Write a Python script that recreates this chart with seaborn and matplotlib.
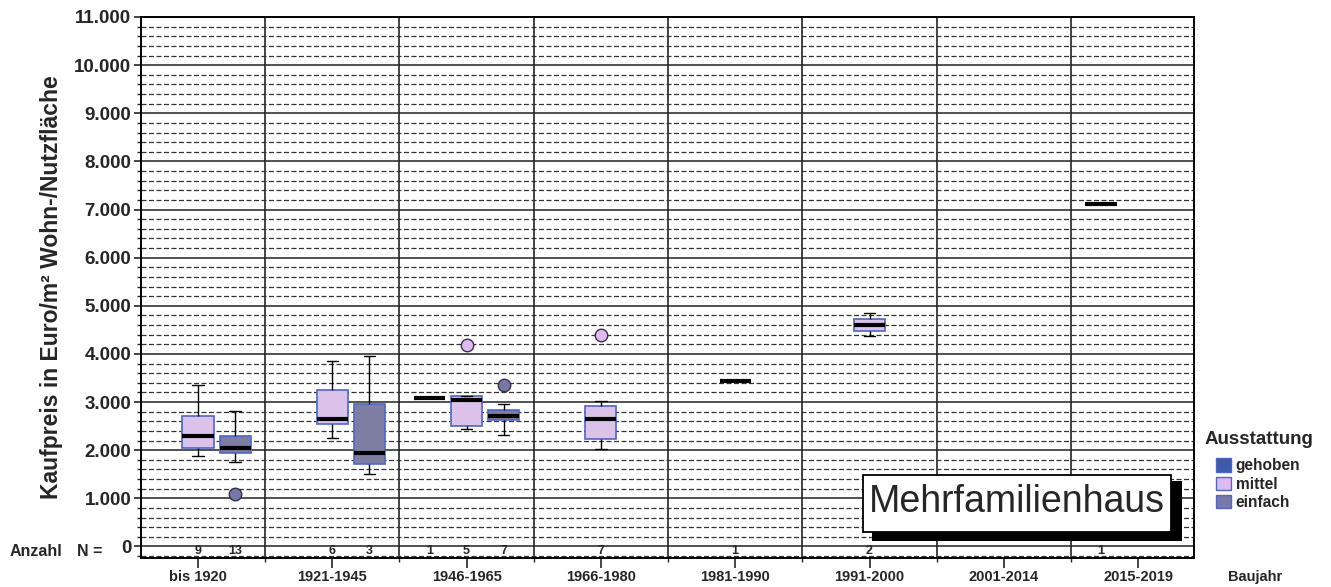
import numpy as np
import pandas as pd
import matplotlib
matplotlib.use("Agg")
import matplotlib.pyplot as plt
from matplotlib.patches import Patch, Rectangle
from matplotlib.ticker import MultipleLocator, FixedLocator, FuncFormatter
import seaborn as sns

# Construction periods (x categories) and equipment levels (hue)
baujahr = ["bis 1920", "1921-1945", "1946-1965", "1966-1980",
           "1981-1990", "1991-2000", "2001-2014", "2015-2019"]
ausstattung = ["gehoben", "mittel", "einfach"]

# Purchase prices in EUR per m² of living/usable area, per period and level
bis1920_mittel = [1870, 1960, 2050, 2180, 2285, 2500, 2715, 2980, 3350]
bis1920_einfach = [1090, 1760, 1880, 1950, 1990, 2020, 2055, 2120, 2200,
                   2305, 2450, 2600, 2810]
p1921_mittel = [2245, 2520, 2640, 2652, 3449, 3855]
p1921_einfach = [1495, 1950, 3965]
p1946_gehoben = [3075]
p1946_mittel = [2450, 2510, 3035, 3120, 4195]
p1946_einfach = [2320, 2590, 2648, 2702, 2708, 2958, 3355]
p1966_mittel = [2030, 2150, 2296, 2654, 2830, 3020, 4385]
p1981_mittel = [3440]
p1991_mittel = [4365, 4840]
p2015_gehoben = [7120]

groups = [
    ("bis 1920", "mittel", bis1920_mittel),
    ("bis 1920", "einfach", bis1920_einfach),
    ("1921-1945", "mittel", p1921_mittel),
    ("1921-1945", "einfach", p1921_einfach),
    ("1946-1965", "gehoben", p1946_gehoben),
    ("1946-1965", "mittel", p1946_mittel),
    ("1946-1965", "einfach", p1946_einfach),
    ("1966-1980", "mittel", p1966_mittel),
    ("1981-1990", "mittel", p1981_mittel),
    ("1991-2000", "mittel", p1991_mittel),
    ("2015-2019", "gehoben", p2015_gehoben),
]

rows = [(b, a, v) for b, a, vals in groups for v in vals]
df = pd.DataFrame(rows, columns=["Baujahr", "Ausstattung", "Preis"])

fill_colors = {"gehoben": "#3D5BAC", "mittel": "#DDBBF2", "einfach": "#7878A8"}
edge_color = "#4F66C6"

sns.set_style("ticks")
plt.rcParams["font.family"] = ["Liberation Sans", "DejaVu Sans"]

W, H = 1331, 587
fig = plt.figure(figsize=(W / 100, H / 100), dpi=100)
ax = fig.add_axes([141 / W, 1 - 558 / H, (1194 - 141) / W, (558 - 17) / H])

total_width = 0.83
gap = 0.16
for level in ausstattung:
    sub = df[df["Ausstattung"] == level]
    sns.boxplot(
        data=sub, x="Baujahr", y="Preis", hue="Ausstattung",
        order=baujahr, hue_order=ausstattung, palette=fill_colors,
        dodge=True, width=total_width, gap=gap, legend=False, ax=ax,
        linecolor=edge_color, linewidth=1.2,
        boxprops={"edgecolor": edge_color, "linewidth": 1.2, "zorder": 3},
        medianprops={"color": "black", "linewidth": 3, "zorder": 4},
        whiskerprops={"color": "black", "linewidth": 1.0, "zorder": 3},
        capprops={"color": "black", "linewidth": 1.0, "zorder": 3},
        capwidths=0.085,
        flierprops={"marker": "o", "markersize": 9,
                    "markerfacecolor": fill_colors[level],
                    "markeredgecolor": "#333344", "markeredgewidth": 1.0,
                    "zorder": 4},
    )

ax.set_xlim(-0.424, 7.416)
ax.set_ylim(-240, 11000)

# y axis: major every 1000 (solid), minor every 200 (dashed)
ax.yaxis.set_major_locator(MultipleLocator(1000))
ax.yaxis.set_minor_locator(FixedLocator(np.arange(-200, 11001, 200)))
ax.yaxis.set_major_formatter(
    FuncFormatter(lambda v, p: f"{int(round(v)):,}".replace(",", ".")))
ax.grid(which="major", axis="y", linestyle="-", color="#222222", linewidth=1.1, zorder=0)
ax.grid(which="minor", axis="y", linestyle=(0, (4, 2)), color="#333333", linewidth=0.9, zorder=0)

# x axis: category separators
ax.set_xticks(np.arange(0.5, len(baujahr) - 1, 1.0), minor=True)
ax.xaxis.grid(which="minor", linestyle="-", color="#111111", linewidth=1.1)
ax.xaxis.grid(which="major", visible=False)
ax.set_axisbelow(True)

ax.tick_params(axis="y", which="major", direction="out", length=5, width=1.2,
               pad=2, labelsize=13.5)
ax.tick_params(axis="y", which="minor", direction="out", length=3, width=1.0)
ax.tick_params(axis="x", which="major", direction="out", length=7, width=1.2,
               pad=1.5, labelsize=10.5)
ax.tick_params(axis="x", which="minor", direction="out", length=3, width=1.0)
for lab in ax.get_yticklabels() + ax.get_xticklabels():
    lab.set_fontweight("bold")

for side in ["left", "right", "top", "bottom"]:
    ax.spines[side].set_visible(True)
    ax.spines[side].set_color("black")
    ax.spines[side].set_linewidth(1.4)

ax.set_xlabel("")
ax.set_ylabel("Kaufpreis in Euro/m² Wohn-/Nutzfläche", fontsize=16.5,
              fontweight="bold", labelpad=8)

# Sample sizes below the zero line
slot = total_width / len(ausstattung)
for b, a, vals in groups:
    xpos = baujahr.index(b) + (ausstattung.index(a) - 1) * slot
    ax.text(xpos, -95, str(len(vals)), ha="center", va="center",
            fontsize=9, fontweight="bold", zorder=5)

fig.text(10 / W, 1 - 551 / H, "Anzahl", ha="left", va="center",
         fontsize=11.5, fontweight="bold")
fig.text(77 / W, 1 - 551 / H, "N =", ha="left", va="center",
         fontsize=11.5, fontweight="bold")
fig.text(1255 / W, 1 - 577 / H, "Baujahr", ha="center", va="center",
         fontsize=10.5, fontweight="bold")

# Building type label with drop shadow
def fig_rect(x0, y0, x1, y1, **kw):
    return Rectangle((x0 / W, 1 - y1 / H), (x1 - x0) / W, (y1 - y0) / H,
                     transform=fig.transFigure, **kw)

fig.patches.append(fig_rect(872, 481, 1182, 541, facecolor="black",
                            edgecolor="none", zorder=5))
fig.patches.append(fig_rect(863, 475, 1171, 532, facecolor="white",
                            edgecolor="black", linewidth=1.3, zorder=6))
fig.text((863 + 1171) / 2 / W, 1 - 502 / H, "Mehrfamilienhaus",
         ha="center", va="center", fontsize=27, zorder=7)

# Legend
fig.text(1205 / W, 1 - 440 / H, "Ausstattung", ha="left", va="center",
         fontsize=13.5, fontweight="bold")
handles = [Patch(facecolor=fill_colors[a], edgecolor=edge_color, linewidth=1.0)
           for a in ausstattung]
leg = fig.legend(handles, ausstattung, loc="upper left",
                 bbox_to_anchor=(1213 / W, 1 - 455 / H), frameon=False,
                 handlelength=0.95, handleheight=0.95, handletextpad=0.3,
                 labelspacing=0.22, borderpad=0.2, borderaxespad=0,
                 prop={"weight": "bold", "size": 11.2})

fig.savefig("out.png", dpi=100, facecolor="white")
